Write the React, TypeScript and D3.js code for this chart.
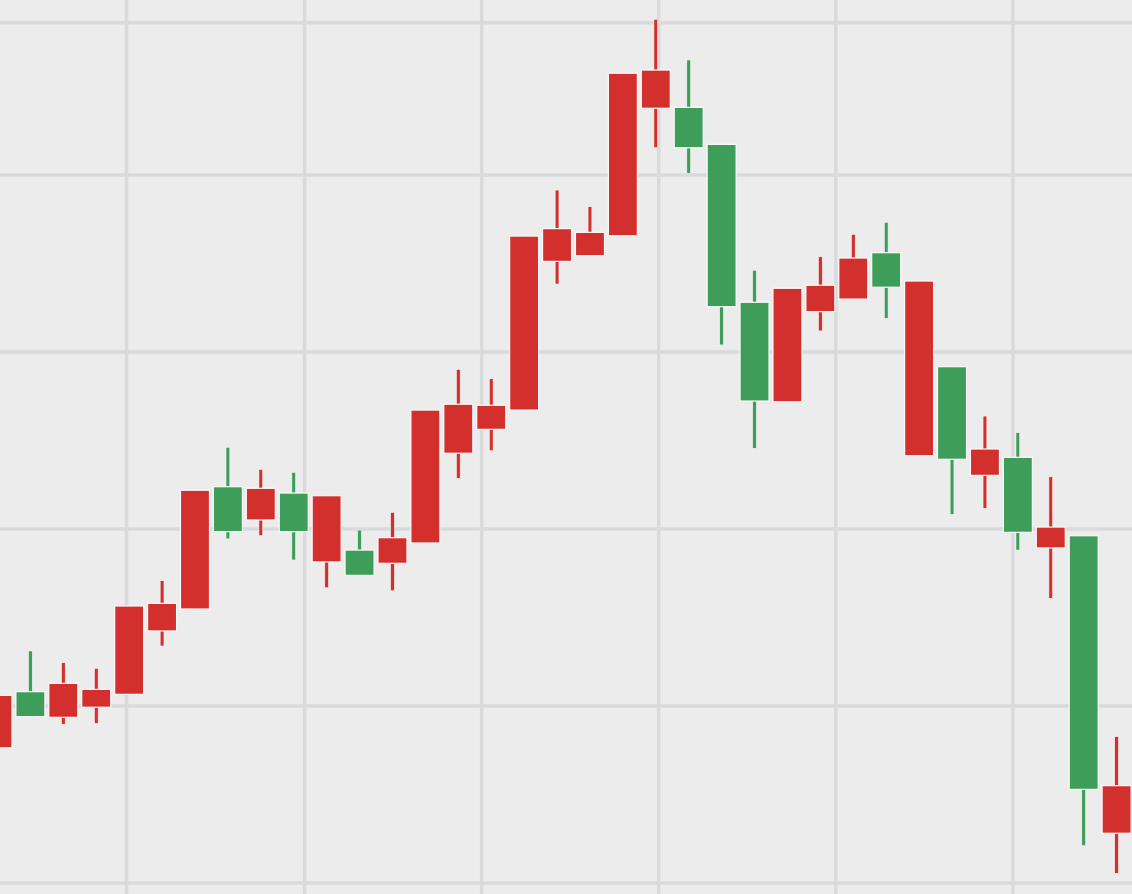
import React from "react";
import * as d3 from "d3";

const WIDTH = 1132;
const HEIGHT = 894;

// OHLC data (price units)
const opens = [107.64, 110.81, 109.36, 109.93, 110.66, 114.24, 115.48, 122.39, 120.51, 122.03, 118.14, 118.81, 118.06, 119.21, 124.28, 125.63, 126.72, 135.12, 135.44, 136.57, 143.77, 143.82, 141.73, 132.81, 127.19, 132.28, 132.99, 135.61, 124.14, 129.17, 123.03, 124.05, 118.93, 119.62, 102.81];
const closes = [110.6, 109.4, 111.28, 110.94, 115.65, 115.8, 122.19, 119.85, 122.3, 119.85, 121.88, 117.38, 119.51, 126.72, 127.05, 126.99, 136.55, 136.97, 136.76, 145.75, 145.93, 141.54, 132.56, 127.23, 133.6, 133.77, 135.31, 133.66, 134.01, 123.94, 124.52, 119.81, 120.11, 105.29, 105.5];
const highs = [110.6, 113.11, 112.45, 112.13, 115.65, 117.08, 122.19, 124.62, 123.37, 123.2, 121.88, 119.94, 120.94, 126.72, 129.02, 128.49, 136.55, 139.15, 138.21, 145.75, 148.8, 146.5, 141.73, 134.62, 133.6, 135.38, 136.65, 137.33, 134.01, 129.17, 126.38, 125.44, 122.95, 119.62, 108.27];
const lows = [106.5, 109.4, 108.97, 109.02, 110.66, 113.39, 115.48, 119.44, 119.62, 118.25, 116.68, 117.38, 116.51, 119.21, 122.86, 124.42, 126.72, 133.84, 135.44, 136.57, 141.54, 140.1, 130.4, 124.56, 127.19, 131.19, 132.99, 131.9, 124.14, 120.83, 121.17, 118.81, 116.08, 102.11, 100.55];

// grid positions (index units / price units)
const gridXIdx = [3.92, 9.33, 14.71, 20.09, 25.47, 30.85];
const gridYPrice = [100, 110, 120, 130, 140, 148.6];

const UP = "#d32f2d";
const DOWN = "#3e9d58";

export default function App() {
  const x = d3.scaleLinear().domain([0, 34]).range([-2.5, 1116.6]);
  const y = d3.scaleLinear().domain([100, 150]).range([883, -2]);
  const bodyW = 29;
  const wickW = 3.8;

  const candles = opens.map((o, i) => ({
    i,
    o,
    c: closes[i],
    h: highs[i],
    l: lows[i],
  }));

  return (
    <svg
      width={WIDTH}
      height={HEIGHT}
      style={{ position: "absolute", left: 0, top: 0, display: "block" }}
    >
      <rect x={0} y={0} width={WIDTH} height={HEIGHT} fill="#ececec" />
      <g>
        {gridXIdx.map((g, k) => (
          <line
            key={"gx" + k}
            x1={x(g)}
            x2={x(g)}
            y1={0}
            y2={HEIGHT}
            stroke="#d9dadb"
            strokeWidth={3.5}
          />
        ))}
        {gridYPrice.map((g, k) => (
          <line
            key={"gy" + k}
            x1={0}
            x2={WIDTH}
            y1={y(g)}
            y2={y(g)}
            stroke="#d9dadb"
            strokeWidth={3.5}
          />
        ))}
      </g>
      <g>
        {candles.map((d) => {
          const up = d.c >= d.o;
          const col = up ? UP : DOWN;
          const cx = x(d.i);
          const top = y(Math.max(d.o, d.c));
          const bot = y(Math.min(d.o, d.c));
          return (
            <g key={d.i}>
              <rect
                x={cx - wickW / 2}
                y={y(d.h)}
                width={wickW}
                height={Math.max(0, y(d.l) - y(d.h))}
                fill={col}
                stroke="#f7f7f7"
                strokeWidth={0.6}
              />
              <rect
                x={cx - bodyW / 2}
                y={top}
                width={bodyW}
                height={Math.max(1, bot - top)}
                fill={col}
                stroke="#fafafa"
                strokeWidth={1.2}
              />
            </g>
          );
        })}
      </g>
    </svg>
  );
}
